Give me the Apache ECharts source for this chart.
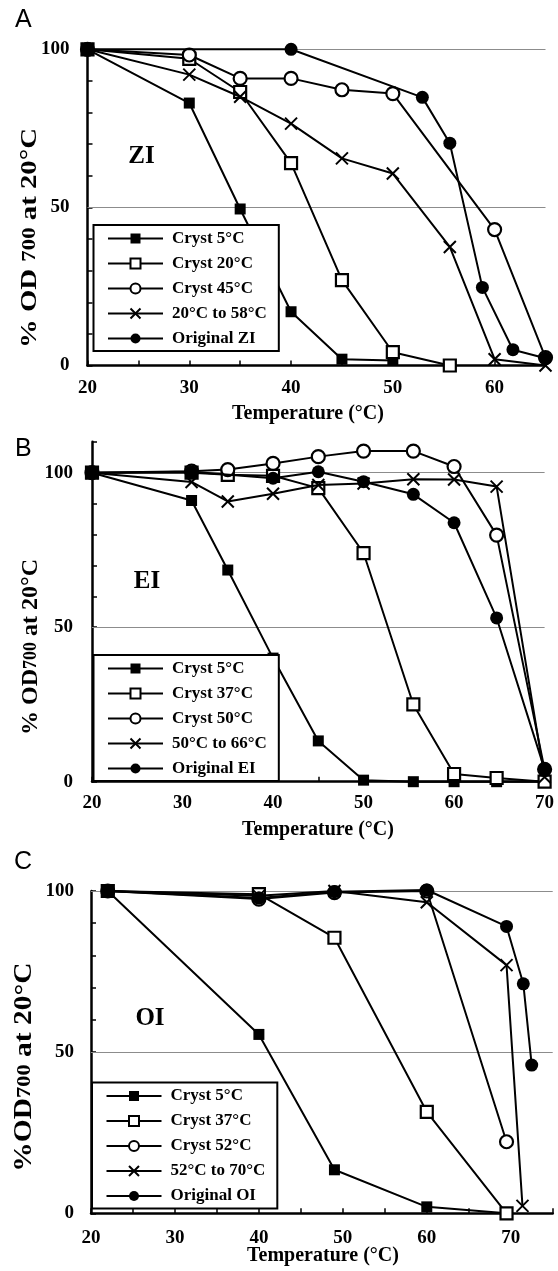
<!DOCTYPE html>
<html>
<head>
<meta charset="utf-8">
<script src="https://cdn.jsdelivr.net/npm/echarts@6/dist/echarts.min.js"></script>
<style>
  html, body { margin: 0; padding: 0; background: #fff; }
  #chart { width: 558px; height: 1271px; }
</style>
</head>
<body>
<div id="chart"></div>
<script>
// ---- Panel A: ZI ([temperature °C, % OD700 relative to 20 °C]) ----
const ziNames = ['Cryst 5°C', 'Cryst 20°C', 'Cryst 45°C', '20°C to 58°C', 'Original ZI'];
const ziCryst5  = [[20,100],[30,83],[35,49.5],[40,17],[45,2],[50,1.6]];
const ziCryst20 = [[20,100],[30,97],[35,86.5],[40,64],[45,27],[50,4.2],[55.6,0]];
const ziCryst45 = [[20,100],[30,98.2],[35,90.8],[40,90.8],[45,87.2],[50,86],[60,43],[65,2.5]];
const ziRamp    = [[20,100],[30,92],[35,85],[40,76.5],[45,65.5],[50,60.7],[55.6,37.5],[60,2],[65,0]];
const ziOrig    = [[20,100],[40,100],[52.9,84.8],[55.6,70.3],[58.8,24.7],[61.8,5],[65,2.3]];

// ---- Panel B: EI ----
const eiNames = ['Cryst 5°C', 'Cryst 37°C', 'Cryst 50°C', '50°C to 66°C', 'Original EI'];
const eiCryst5  = [[20,100],[31,91],[35,68.5],[40,40],[45,13.2],[50,0.5],[55.5,0],[60,0],[64.7,0],[70,0]];
const eiCryst37 = [[20,100],[31,100],[35,99.3],[40,99],[45,95],[50,74],[55.5,25],[60,2.5],[64.7,1.2],[70,0]];
const eiCryst50 = [[20,100],[31,100.5],[35,101],[40,103],[45,105.2],[50,107],[55.5,107],[60,102],[64.7,79.8],[70,4]];
const eiRamp    = [[20,100],[31,97],[35,90.7],[40,93.2],[45,96],[50,96.5],[55.5,97.9],[60,97.8],[64.7,95.5],[70,1.5]];
const eiOrig    = [[20,100],[31,100.3],[40,98.2],[45,100.3],[50,97.1],[55.5,93],[60,83.8],[64.7,53],[70,4]];

// ---- Panel C: OI ----
const oiNames = ['Cryst 5°C', 'Cryst 37°C', 'Cryst 52°C', '52°C to 70°C', 'Original OI'];
const oiCryst5  = [[22,100],[40,55.5],[49,13.5],[60,2],[69.5,0]];
const oiCryst37 = [[22,100],[40,99],[49,85.5],[60,31.5],[69.5,0]];
const oiCryst52 = [[22,100],[40,97.5],[49,99.5],[60,100],[69.5,22.2]];
const oiRamp    = [[22,100],[40,98.5],[49,100],[60,96.5],[69.5,77],[71.4,2.3]];
const oiOrig    = [[22,100],[40,97.8],[49,99.8],[60,100.3],[69.5,89],[71.5,71.2],[72.5,46]];

// axis ranges and reference lines
const xMax = [65, 70, 75];
const yMax = [100, 110, 100];
const gridValues = [50, 100];

const SERIF = 'Liberation Serif';
const SANS = 'Liberation Sans';

// marker styles: filled square, open square, open circle, cross, filled circle
const markers = [
  { symbol: 'rect', symbolSize: 11, itemStyle: { color: '#000', borderColor: '#000', borderWidth: 0 } },
  { symbol: 'rect', symbolSize: 12, itemStyle: { color: '#fff', borderColor: '#000', borderWidth: 2.2 } },
  { symbol: 'circle', symbolSize: 13, itemStyle: { color: '#fff', borderColor: '#000', borderWidth: 2.2 } },
  { symbol: 'path://M0,0L10,10M10,0L0,10', symbolSize: 12, itemStyle: { color: '#000', borderColor: '#000', borderWidth: 2 } },
  { symbol: 'circle', symbolSize: 13, itemStyle: { color: '#000', borderColor: '#000', borderWidth: 0 } }
];

const panels = [
  { names: ziNames, data: [ziCryst5, ziCryst20, ziCryst45, ziRamp, ziOrig] },
  { names: eiNames, data: [eiCryst5, eiCryst37, eiCryst50, eiRamp, eiOrig] },
  { names: oiNames, data: [oiCryst5, oiCryst37, oiCryst52, oiRamp, oiOrig] }
];

const grids = [
  { left: 87.5, top: 49.3, width: 458, height: 316.2 },
  { left: 92, top: 441.8, width: 452.6, height: 339.9 },
  { left: 91, top: 891, width: 461.7, height: 322.3 }
];

const axisLineStyle = { color: '#000', width: 2.5 };
const tickStyle = { show: true, inside: true, length: 5, lineStyle: { color: '#000', width: 1.5 } };
const labelFont = { fontFamily: SERIF, fontWeight: 'bold', fontSize: 19, color: '#000' };

const xAxes = grids.map((g, i) => ({
  type: 'value', gridIndex: i, min: 20, max: xMax[i], interval: 5,
  axisLine: { show: true, lineStyle: axisLineStyle },
  axisTick: tickStyle,
  splitLine: { show: false },
  axisLabel: Object.assign({ margin: [13, 12, 15][i], formatter: v => (v % 10 === 0 ? String(v) : '') }, labelFont)
}));

const yAxes = grids.map((g, i) => ({
  type: 'value', gridIndex: i, min: 0, max: yMax[i], interval: 10,
  axisLine: { show: true, lineStyle: axisLineStyle },
  axisTick: tickStyle,
  splitLine: { show: false },
  axisLabel: Object.assign({ margin: [18, 19, 17][i], formatter: v => (v % 50 === 0 ? String(v) : '') }, labelFont)
}));

const series = [];
panels.forEach((p, pi) => {
  p.names.forEach((name, si) => {
    const m = markers[si];
    const s = {
      type: 'line', name: name, xAxisIndex: pi, yAxisIndex: pi,
      data: p.data[si],
      symbol: m.symbol, symbolSize: m.symbolSize,
      showAllSymbol: true, clip: false, animation: false,
      itemStyle: m.itemStyle,
      lineStyle: { color: '#000', width: 2 },
      z: 2 + si
    };
    if (si === 0) {
      s.markLine = {
        silent: true, symbol: 'none', z: 1, animation: false,
        label: { show: false },
        lineStyle: { color: '#8c8c8c', width: 1.2, type: 'solid' },
        data: gridValues.map(v => ({ yAxis: v }))
      };
    }
    series.push(s);
  });
});

const legendPos = [
  { left: 93.5, top: 225 },
  { left: 93.5, top: 655 },
  { left: 92, top: 1082.5 }
];
const legends = panels.map((p, i) => ({
  data: p.names,
  orient: 'vertical',
  left: legendPos[i].left, top: legendPos[i].top,
  backgroundColor: '#fff',
  borderColor: '#000', borderWidth: 2, borderRadius: 0,
  padding: [5, 12, 4, 13.5],
  itemGap: 8, itemWidth: 55, itemHeight: 12.5,
  selectedMode: false,
  align: 'left',
  textStyle: { fontFamily: SERIF, fontWeight: 'bold', fontSize: 17, color: '#000', padding: [0, 0, 0, 4] }
}));

// titles and panel annotations
const xTitleY = [404, 820, 1246];
const xTitleX = [308, 318, 323];
const yTitle = [
  { x: 30, y: 238, size: 24, sub: 19, stretch: 1.2, text: '{a|% OD }{s|700}{a| at 20°C}' },
  { x: 31, y: 647, size: 24, sub: 18, stretch: 1.0, text: '{a|% OD}{s|700}{a| at 20°C}' },
  { x: 25, y: 1067, size: 25, sub: 19, stretch: 1.18, text: '{a|%OD}{s|700}{a| at 20°C}' }
];
const panelLetters = [
  { x: 15, y: 33, t: 'A' },
  { x: 15, y: 462, t: 'B' },
  { x: 14, y: 875, t: 'C' }
];
const sampleTags = [
  { x: 141.5, y: 157, t: 'ZI' },
  { x: 147, y: 582, t: 'EI' },
  { x: 150, y: 1019, t: 'OI' }
];

const graphics = [];
xTitleY.forEach((y, i) => graphics.push({
  type: 'text', x: xTitleX[i], y: y, silent: true,
  style: { text: 'Temperature (°C)', font: 'bold 20px "' + SERIF + '"', fill: '#000', align: 'center', verticalAlign: 'top' }
}));
yTitle.forEach(t => graphics.push({
  type: 'text', x: t.x, y: t.y, rotation: Math.PI / 2, scaleX: t.stretch, silent: true,
  style: {
    text: t.text, align: 'center', verticalAlign: 'middle', fill: '#000',
    rich: {
      a: { fontFamily: SERIF, fontWeight: 'bold', fontSize: t.size, fill: '#000' },
      s: { fontFamily: SERIF, fontWeight: 'bold', fontSize: t.sub, fill: '#000' }
    }
  }
}));
panelLetters.forEach(l => graphics.push({
  type: 'text', x: l.x, y: l.y, silent: true,
  style: { text: l.t, font: '25px "' + SANS + '"', fill: '#000', align: 'left', verticalAlign: 'bottom' }
}));
sampleTags.forEach(l => graphics.push({
  type: 'text', x: l.x, y: l.y, silent: true,
  style: { text: l.t, font: 'bold 25px "' + SERIF + '"', fill: '#000', align: 'center', verticalAlign: 'middle' }
}));

const chart = echarts.init(document.getElementById('chart'), null, { renderer: 'canvas' });
chart.setOption({
  animation: false,
  backgroundColor: '#fff',
  grid: grids,
  xAxis: xAxes,
  yAxis: yAxes,
  legend: legends,
  series: series,
  graphic: graphics
});
</script>
</body>
</html>
